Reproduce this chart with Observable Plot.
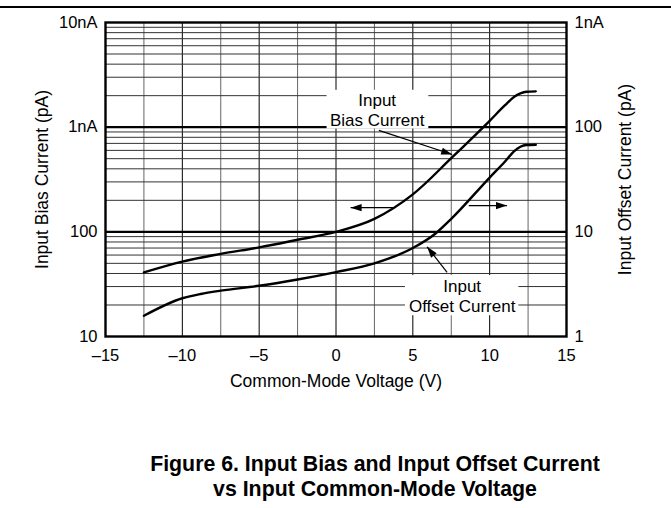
<!DOCTYPE html>
<html>
<head>
<meta charset="utf-8">
<script src="https://cdn.jsdelivr.net/npm/d3@7"></script>
<script src="https://cdn.jsdelivr.net/npm/@observablehq/plot@0.6"></script>
<style>
  body { margin: 0; background: #fff; font-family: "Liberation Sans", Arial, Helvetica, sans-serif; }
  #wrap { position: relative; width: 671px; height: 508px; overflow: hidden; }
  #rule { position: absolute; left: 0; top: 6px; width: 671px; border-top: 2px solid #000; }
  #chart { position: absolute; left: 0; top: 0; }
  #caption { position: absolute; left: 25px; width: 700px; top: 452px; text-align: center;
             font-weight: bold; font-size: 21.3px; line-height: 25px; color: #000; }
</style>
</head>
<body>
<div id="wrap">
  <div id="rule"></div>
  <div id="chart"></div>
  <div id="caption">Figure 6. Input Bias and Input Offset Current<br>vs Input Common-Mode Voltage</div>
</div>
<script>
// Input bias current (left axis, pA) vs common-mode voltage (V)
const biasV  = [-12.5, -10, -7.5, -5, -2.5, 0, 2.5, 5, 7.5, 10, 11, 11.6, 12, 12.4, 13];
const biasPA = [41, 52, 61.5, 71, 84, 100, 133, 228, 505, 1150, 1620, 1950, 2100, 2180, 2200];
// Input offset current (right axis, pA)
const offsetV  = [-12.5, -10, -8.8, -7.5, -5, -2.5, 0, 2.5, 5, 6.5, 7.5, 10, 11, 11.6, 12, 12.4, 13];
const offsetPA = [1.58, 2.32, 2.55, 2.74, 3.05, 3.5, 4.12, 5.0, 7.0, 9.7, 13.3, 33, 47, 59, 65, 67.5, 68];

// Axis ticks
const xTicks = [-15, -10, -5, 0, 5, 10, 15];
const xGrid = [-12.5, -10, -7.5, -5, -2.5, 0, 2.5, 5, 7.5, 10, 12.5];
const leftTicks = [10, 100, 1000, 10000];
const leftTickLabels = ["10", "100", "1nA", "10nA"];
const rightTickLabels = ["1", "10", "100", "1nA"];
const decadeLines = [100, 1000];
const minorSteps = [2, 3, 4, 5, 6, 7, 8, 9];

// Annotations (left-axis units)
const arrows = [
  {x1: 3.8, y1: 170, x2: 0.95, y2: 170},
  {x1: 8.64, y1: 178, x2: 11.13, y2: 178},
  {x1: 2.79, y1: 931, x2: 7.56, y2: 548},
  {x1: 7.23, y1: 41, x2: 5.93, y2: 72}
];
const labels = [
  {x: 2.68, y: 1480, text: "Input\nBias Current"},
  {x: 8.21, y: 24.6, text: "Input\nOffset Current"}
];
const boxes = [
  {x1: -0.58, x2: 6.04, y1: 960, y2: 2250},
  {x1: 4.52, x2: 11.9, y1: 15.8, y2: 38.2}
];

const W = 671, H = 400, ML = 105, MR = 105, MT = 22, MB = 64;
const xDomain = [-15, 15], yDomain = [10, 10000];

const bias = biasV.map((v, i) => ({v, pA: biasPA[i]}));
const offset = offsetV.map((v, i) => ({v, pA: offsetPA[i]}));
const minorGrid = [10, 100, 1000].flatMap(d => minorSteps.map(k => d * k));
const fmtX = d => d < 0 ? "\u2013" + Math.abs(d) : String(d);

// screen-space direction of each arrow, for the filled heads
const sx = Plot.scale({x: {domain: xDomain, range: [ML, W - MR]}});
const sy = Plot.scale({y: {type: "log", domain: yDomain, range: [H - MB, MT]}});
const headAngle = d => {
  const dx = sx.apply(d.x2) - sx.apply(d.x1);
  const dy = sy.apply(d.y2) - sy.apply(d.y1);
  return Math.atan2(dx, -dy) * 180 / Math.PI;
};

const chart = Plot.plot({
  width: W,
  height: H,
  marginLeft: ML,
  marginRight: MR,
  marginTop: MT,
  marginBottom: MB,
  style: {fontFamily: '"Liberation Sans", Arial, Helvetica, sans-serif', fontSize: "16px", color: "#000", background: "transparent"},
  x: {domain: xDomain, axis: null},
  y: {type: "log", domain: yDomain, axis: null},
  marks: [
    Plot.ruleX(xGrid, {stroke: d => (d % 5 === 0 ? "#000" : "#666"), strokeWidth: 1}),
    Plot.ruleY(minorGrid, {stroke: "#333", strokeWidth: 1}),
    Plot.ruleY(decadeLines, {stroke: "#000", strokeWidth: 2.2}),
    Plot.rect(boxes, {x1: "x1", x2: "x2", y1: "y1", y2: "y2", fill: "white"}),
    Plot.line(bias, {x: "v", y: "pA", stroke: "#000", strokeWidth: 2.4, curve: "monotone-x"}),
    Plot.line(offset, {x: "v", y: d => d.pA * 10, stroke: "#000", strokeWidth: 2.4, curve: "monotone-x"}),
    Plot.link(arrows, {x1: "x1", y1: "y1", x2: "x2", y2: "y2", stroke: "#000", strokeWidth: 1.2}),
    Plot.vector(arrows, {x: "x2", y: "y2", rotate: headAngle, length: 11, r: 3.6, shape: "spike", anchor: "end", fill: "#000", stroke: "none"}),
    Plot.text(labels, {x: "x", y: "y", text: "text", fontSize: 17, lineHeight: 1.18, fill: "#000"}),
    Plot.frame({stroke: "#000", strokeWidth: 2.4}),
    Plot.axisX({ticks: xTicks, tickFormat: fmtX, tickSize: 0, tickPadding: 13, fontSize: 16.5, label: null}),
    Plot.axisY({anchor: "left", ticks: leftTicks, tickFormat: d => leftTickLabels[leftTicks.indexOf(d)], tickSize: 0, tickPadding: 8, fontSize: 16.5, label: null}),
    Plot.axisY({anchor: "right", ticks: leftTicks, tickFormat: d => rightTickLabels[leftTicks.indexOf(d)], tickSize: 0, tickPadding: 8, fontSize: 16.5, label: null}),
    Plot.text(["Common-Mode Voltage (V)"], {frameAnchor: "bottom", textAnchor: "middle", dy: 50, fontSize: 17.5, fill: "#000"}),
    Plot.text(["Input Bias Current (pA)"], {frameAnchor: "left", textAnchor: "middle", dx: -63, rotate: -90, fontSize: 17.5, fill: "#000"}),
    Plot.text(["Input Offset Current (pA)"], {frameAnchor: "right", textAnchor: "middle", dx: 59, rotate: -90, fontSize: 17.5, fill: "#000"})
  ]
});
document.getElementById("chart").appendChild(chart);
</script>
</body>
</html>
